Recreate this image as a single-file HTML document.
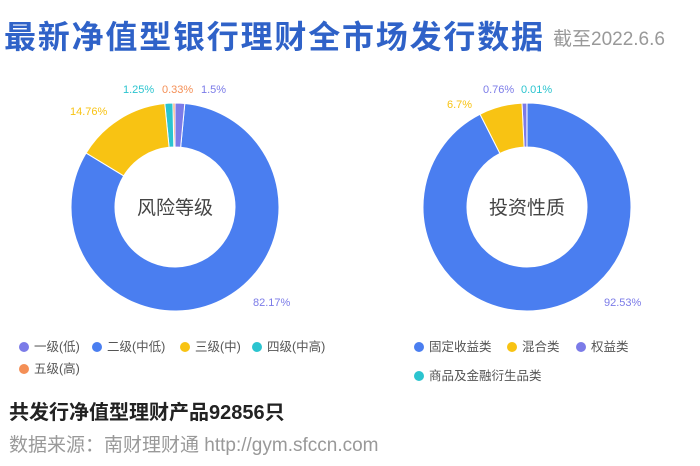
<!DOCTYPE html>
<html><head><meta charset="utf-8"><style>
html,body{margin:0;padding:0;background:#fff;}
body{width:700px;height:466px;overflow:hidden;position:relative;font-family:"Liberation Sans","Noto Sans CJK SC",sans-serif;}
.t{position:absolute;white-space:nowrap;}
</style></head><body>
<div class="t" style="left:4px;top:12px;font-size:32px;font-weight:bold;color:#2f62c8;letter-spacing:1.8px;">最新净值型银行理财全市场发行数据</div>
<div class="t" style="left:553px;top:24px;font-size:19px;color:#999;">截至2022.6.6</div>
<svg id="s" width="700" height="466" style="position:absolute;left:0;top:0" font-family="Liberation Sans, Noto Sans CJK SC, sans-serif">
<text x="175" y="214" font-size="19" text-anchor="middle" fill="#444">风险等级</text>
<text x="527" y="214" font-size="19" text-anchor="middle" fill="#444">投资性质</text>
<g font-size="11">
<text x="123" y="93" fill="#2bc4cf">1.25%</text>
<text x="162" y="93" fill="#f48f56">0.33%</text>
<text x="201" y="93" fill="#7b7be8">1.5%</text>
<text x="70" y="115" fill="#f8c313">14.76%</text>
<text x="253" y="306" fill="#7b7be8">82.17%</text>
<text x="483" y="93" fill="#7b7be8">0.76%</text>
<text x="521" y="93" fill="#2bc4cf">0.01%</text>
<text x="447" y="108" fill="#f8c313">6.7%</text>
<text x="604" y="306" fill="#7b7be8">92.53%</text>
</g>
<g font-size="12.5" fill="#555">
<circle cx="24" cy="347" r="5" fill="#7b7be8"/><text x="34" y="351">一级(低)</text>
<circle cx="97" cy="347" r="5" fill="#4a7ef0"/><text x="107" y="351">二级(中低)</text>
<circle cx="185" cy="347" r="5" fill="#f8c313"/><text x="195" y="351">三级(中)</text>
<circle cx="257" cy="347" r="5" fill="#2bc4cf"/><text x="267" y="351">四级(中高)</text>
<circle cx="24" cy="369" r="5" fill="#f48f56"/><text x="34" y="373">五级(高)</text>
<circle cx="419" cy="347" r="5" fill="#4a7ef0"/><text x="429" y="351">固定收益类</text>
<circle cx="512" cy="347" r="5" fill="#f8c313"/><text x="522" y="351">混合类</text>
<circle cx="581" cy="347" r="5" fill="#7b7be8"/><text x="591" y="351">权益类</text>
<circle cx="419" cy="376" r="5" fill="#2bc4cf"/><text x="429" y="380">商品及金融衍生品类</text>
</g>
</svg>
<div class="t" style="left:9px;top:396px;font-size:20px;font-weight:bold;color:#222;">共发行净值型理财产品92856只</div>
<div class="t" style="left:9px;top:430px;font-size:19px;color:#999;">数据来源：南财理财通 http://gym.sfccn.com</div>
<script>
var s=document.getElementById('s');
function donut(cx,cy,R,r,data){
  var a=0;
  data.forEach(function(d){
    var a0=a*2*Math.PI/100-Math.PI/2, a1=(a+d[0])*2*Math.PI/100-Math.PI/2; a+=d[0];
    var lg=d[0]>50?1:0;
    var p='M'+(cx+R*Math.cos(a0))+' '+(cy+R*Math.sin(a0))+'A'+R+' '+R+' 0 '+lg+' 1 '+(cx+R*Math.cos(a1))+' '+(cy+R*Math.sin(a1))+
      'L'+(cx+r*Math.cos(a1))+' '+(cy+r*Math.sin(a1))+'A'+r+' '+r+' 0 '+lg+' 0 '+(cx+r*Math.cos(a0))+' '+(cy+r*Math.sin(a0))+'Z';
    var e=document.createElementNS('http://www.w3.org/2000/svg','path');
    e.setAttribute('d',p);e.setAttribute('fill',d[1]);e.setAttribute('stroke','#fff');e.setAttribute('stroke-width','1');
    s.insertBefore(e,s.firstChild);
  });
}
donut(175,207,104,60,[[1.5,'#7b7be8'],[82.17,'#4a7ef0'],[14.76,'#f8c313'],[1.25,'#2bc4cf'],[0.33,'#f48f56']]);
donut(527,207,104,60,[[92.53,'#4a7ef0'],[6.7,'#f8c313'],[0.76,'#7b7be8'],[0.01,'#2bc4cf']]);
</script>
</body></html>
